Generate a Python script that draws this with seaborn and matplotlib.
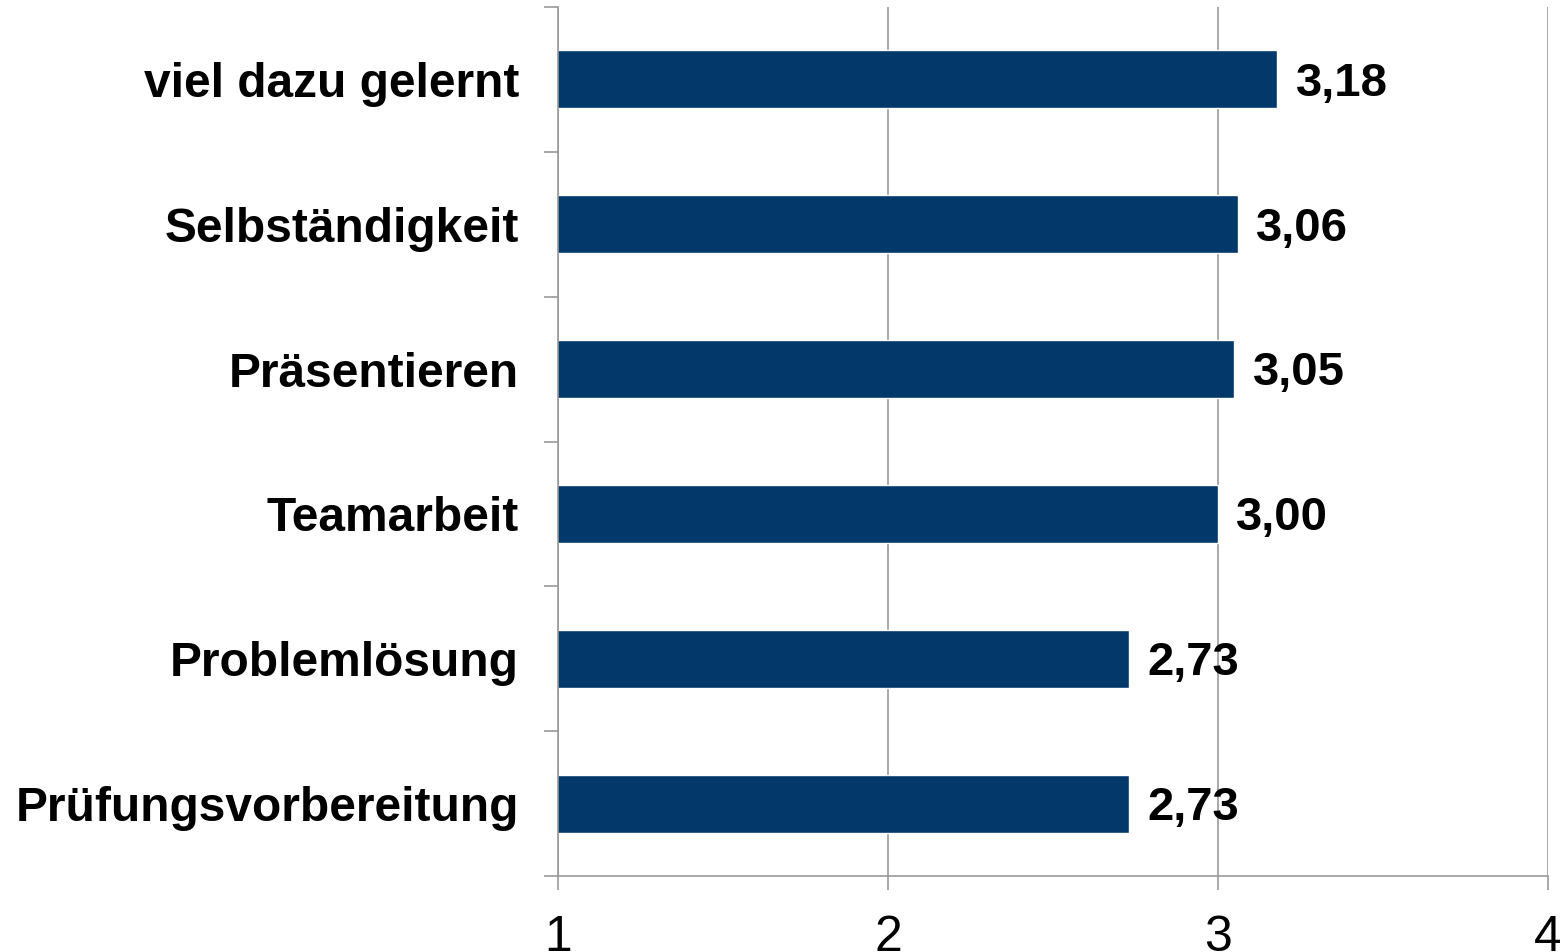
import matplotlib
matplotlib.use("Agg")
import matplotlib.pyplot as plt
import seaborn as sns
import pandas as pd
import numpy as np

# ----------------------------
# DATA
# ----------------------------

categories = [
    "viel dazu gelernt",
    "Selbständigkeit",
    "Präsentieren",
    "Teamarbeit",
    "Problemlösung",
    "Prüfungsvorbereitung",
]
values = [3.18, 3.06, 3.05, 3.00, 2.73, 2.73]
x_ticks = [1, 2, 3, 4]

df = pd.DataFrame({"Kategorie": categories, "Wert": values})

BAR_COLOR = "#03386b"
GRID_COLOR = "#999999"

# ----------------------------
# PLOT
# ----------------------------

sns.set_style("white")
plt.rcParams["font.family"] = ["Liberation Sans", "DejaVu Sans"]
plt.rcParams["text.color"] = "black"
plt.rcParams["xtick.labelcolor"] = "black"
plt.rcParams["ytick.labelcolor"] = "black"

fig = plt.figure(figsize=(15.6, 9.52), dpi=100)
ax = fig.add_axes([0.3577, 0.0798, 0.6346, 0.9128])

sns.barplot(
    data=df,
    x="Wert",
    y="Kategorie",
    color=BAR_COLOR,
    width=0.4,
    saturation=1,
    ax=ax,
)

ax.set_xlim(1, 4)
ax.set_ylim(len(categories) - 0.5, -0.5)
ax.set_xticks(x_ticks)
ax.set_xticklabels([str(t) for t in x_ticks], fontsize=36, color="black")
ax.tick_params(axis="x", length=10, width=1.2, color=GRID_COLOR, pad=18,
               direction="out", bottom=True)

# category labels at centres, tick marks at category boundaries
ax.set_yticks(np.arange(len(categories)))
ax.set_yticklabels(categories, fontsize=34.5, fontweight="bold", color="black")
ax.tick_params(axis="y", which="major", length=0, pad=28)
ax.set_yticks(np.arange(len(categories) + 1) - 0.5, minor=True)
ax.tick_params(axis="y", which="minor", length=10, width=1.2,
               color=GRID_COLOR, direction="out", left=True)

ax.xaxis.grid(True, color=GRID_COLOR, linewidth=1.2)
ax.yaxis.grid(False)
ax.set_axisbelow(True)

for side in ["top", "right"]:
    ax.spines[side].set_visible(False)
for side in ["left", "bottom"]:
    ax.spines[side].set_color(GRID_COLOR)
    ax.spines[side].set_linewidth(1.2)

ax.set_xlabel("")
ax.set_ylabel("")

# value labels
for i, v in enumerate(values):
    ax.text(v + 0.055, i + 0.03, f"{v:.2f}".replace(".", ","),
            va="center", ha="left", fontsize=34, fontweight="bold",
            color="black")

plt.savefig("out.png", dpi=100)
